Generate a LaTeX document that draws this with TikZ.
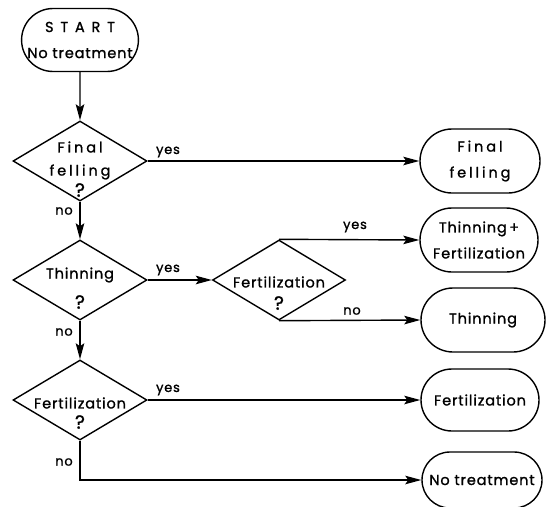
\documentclass[tikz,border=0pt]{standalone}
\usepackage{fontspec}
\setmainfont{Poppins}[LetterSpace=6,FakeBold=1.2]
\usetikzlibrary{shapes.geometric,shapes.misc,arrows.meta}
\newfontfamily\spacedfont[LetterSpace=20,FakeBold=1.2]{Poppins}
\begin{document}
\begin{tikzpicture}[x=1pt,y=-1pt,
  term/.style={draw, rounded rectangle, inner sep=0pt, line width=1.4pt, align=center,
    font=\fontsize{14.5}{26}\selectfont},
  dia/.style={draw, diamond, inner sep=0pt, line width=1.4pt, minimum width=134pt, minimum height=80pt},
  txt/.style={inner sep=0pt, font=\fontsize{14.5}{15}\selectfont},
  qm/.style={inner sep=0pt, font=\fontsize{19}{19}\selectfont},
  lab/.style={inner sep=0pt, font=\fontsize{13}{14}\selectfont},
  arr/.style={-{Stealth[length=16pt,width=8.5pt,inset=3pt]}, line width=1.4pt},
  ln/.style={line width=1.4pt}]
\useasboundingbox (0,0) rectangle (551,506);

% terminals
\node[term, minimum width=110pt, minimum height=63pt] (start) at (80,40)
  {{\spacedfont S T A R T}\\No treatment};
\node[term, minimum width=120pt, minimum height=64pt] (t1) at (480,161)
  {{\spacedfont Final}\\{\spacedfont felling}};
\node[term, minimum width=118pt, minimum height=64pt] (t2) at (479,240)
  {Thinning\,+\\Fertilization};
\node[term, minimum width=124pt, minimum height=64pt] (t3) at (483,320) {Thinning};
\node[term, minimum width=118pt, minimum height=62pt] (t4) at (480,400) {Fertilization};
\node[term, minimum width=120pt, minimum height=56pt] (t5) at (482,480) {No treatment};

% decisions
\node[dia] (d1) at (80,161) {};
\node[txt] (d1a) at (80,147) {\spacedfont Final};
\node[txt] (d1b) at (80,172) {\spacedfont felling};
\node[qm] (d1q) at (80,190) {?};

\node[dia] (d2) at (80,280) {};
\node[txt] (d2a) at (80,275) {Thinning};
\node[qm] (d2q) at (80,302) {?};

\node[dia, minimum width=133pt] (d3) at (279,280) {};
\node[txt] (d3a) at (279,282) {Fertilization};
\node[qm] (d3q) at (279,303) {?};

\node[dia] (d4) at (80,400) {};
\node[txt] (d4a) at (80,403) {Fertilization};
\node[qm] (d4q) at (80,422) {?};

% connectors
\draw[arr] (start) -- (d1);
\draw[arr] (d1.east) -- (t1.west);
\draw[arr] (d1.south) -- (d2.north);
\draw[arr] (d2.east) -- (d3.west);
\draw[arr] (d3.north) -- (t2.west);
\draw[arr] (d3.south) -- (t3.west);
\draw[arr] (d2.south) -- (d4.north);
\draw[arr] (d4.east) -- (t4.west);
\draw[arr] (d4.south) |- (t5.west);

% labels
\node[lab] (y1) at (168,152) {yes};
\node[lab] (n1) at (64,211) {no};
\node[lab] (y2) at (168,270) {yes};
\node[lab] (n2) at (64,332) {no};
\node[lab] (y3) at (355,227) {yes};
\node[lab] (n3) at (352,311) {no};
\node[lab] (y4) at (168,390) {yes};
\node[lab] (n4) at (64,462) {no};
\end{tikzpicture}
\end{document}
